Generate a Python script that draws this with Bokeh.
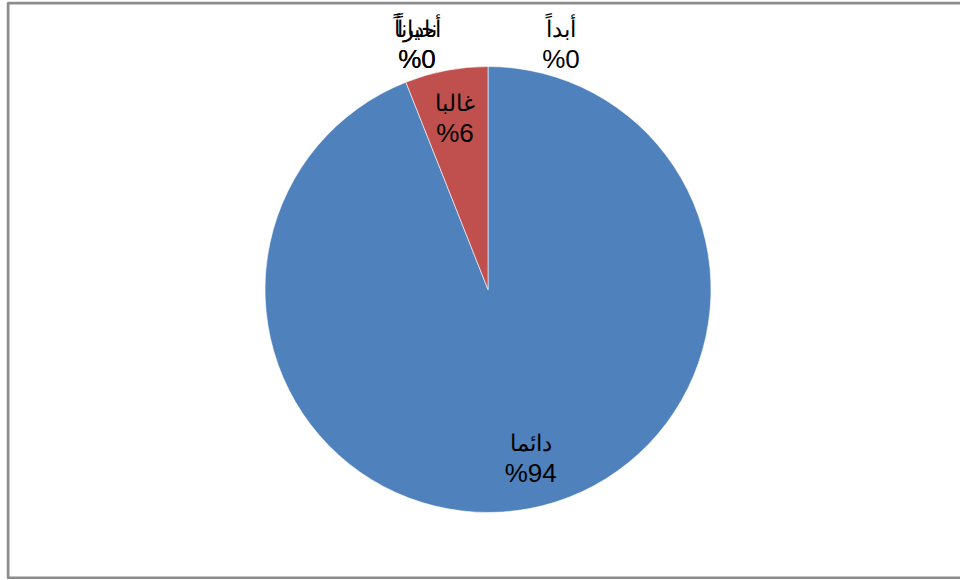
import math
from bokeh.plotting import figure
from bokeh.models import ColumnDataSource
from bokeh.core.properties import value
from bokeh.embed import file_html
from bokeh.resources import INLINE

# ---- data ----
categories = ["دائما", "غالبا", "أحياناً", "نادراً", "أبداً"]
percents = [94, 6, 0, 0, 0]
colors = ["#4F81BD", "#C0504D", "#9BBB59", "#8064A2", "#4BACC6"]

# ---- layout / style ----
W, H = 954, 578
CX, CY, R = 481.5, 290.0, 223.0
label_radius = [0.76, 0.79, 1.11, 1.11, 1.11]
label_dx = [11, 0, -71, -71, 73]
FONT = value("Liberation Sans")

total = sum(percents)
starts, ends, mids = [], [], []
acc = 0.0
for v in percents:
    a0 = math.pi / 2 - 2 * math.pi * acc / total
    acc += v
    a1 = math.pi / 2 - 2 * math.pi * acc / total
    starts.append(a0)
    ends.append(a1)
    mids.append((a0 + a1) / 2)

lx = [CX + f * R * math.cos(m) + dx for f, m, dx in zip(label_radius, mids, label_dx)]
ly = [CY + f * R * math.sin(m) for f, m in zip(label_radius, mids)]

src = ColumnDataSource(dict(
    cat=categories,
    pct=[f"%{v}" for v in percents],
    start=starts, end=ends, color=colors,
    x=[CX] * len(categories), y=[CY] * len(categories),
    lx=lx, ly=ly,
))

p = figure(width=W, height=H, x_range=(0, W), y_range=(0, H),
           output_backend="svg", toolbar_location=None,
           min_border=0, outline_line_color=None,
           margin=(1, 0, 0, 6))
p.axis.visible = False
p.grid.visible = False
p.background_fill_color = "white"
p.border_fill_color = "white"

# chart-area frame (right edge lies outside the window)
p.line(x=[W + 10, 1.5, 1.5, W + 10], y=[H - 1.5, H - 1.5, 1.5, 1.5],
       line_color="#8C8C8C", line_width=3)

nz = [i for i, v in enumerate(percents) if v > 0]
wsrc = ColumnDataSource({k: [src.data[k][i] for i in nz] for k in src.data})
p.wedge(x="x", y="y", radius=R, start_angle="start", end_angle="end",
        direction="clock", fill_color="color", line_color="white",
        line_width=0.6, source=wsrc)

p.text(x="lx", y="ly", text="cat", source=src, text_font=FONT,
       text_font_size="23px", text_align="center", text_baseline="middle",
       y_offset=-13, text_color="black")
p.text(x="lx", y="ly", text="pct", source=src, text_font=FONT,
       text_font_size="26px", text_align="center", text_baseline="middle",
       y_offset=17, text_color="black")

open("out.html", "w").write(file_html(p, INLINE))
